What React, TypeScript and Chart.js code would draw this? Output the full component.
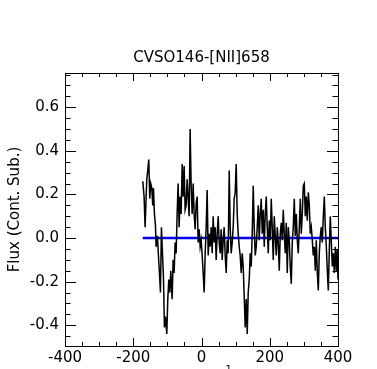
import React, { useEffect, useRef } from "react";
import { Chart, registerables } from "chart.js";

Chart.register(...registerables);

const titleText = "CVSO146-[NII]658";
const yTitle = "Flux (Cont. Sub.)";

const velocity = [
  -172.1, -168.2, -165.3, -160.4, -157.5, -154.5, -151.6, -148.7, -145.7, -142.8,
  -140.8, -137.9, -135.0, -133.0, -129.1, -126.2, -123.2, -120.3, -117.4, -114.4,
  -111.5, -108.6, -105.6, -101.7, -98.8, -95.8, -92.9, -90.0, -86.1, -83.1,
  -80.2, -77.3, -74.3, -71.4, -68.5, -65.5, -62.6, -59.7, -56.7, -53.8,
  -50.9, -47.9, -45.0, -42.1, -39.1, -36.2, -33.3, -30.3, -27.4, -24.4,
  -21.5, -18.6, -15.6, -12.7, -9.8, -6.8, -3.9, -1.0, 2.0, 4.9,
  7.8, 10.8, 13.7, 16.6, 19.6, 22.5, 25.4, 28.4, 31.3, 34.2,
  37.2, 40.1, 43.0, 46.0, 48.9, 51.8, 54.8, 57.7, 60.6, 63.6,
  66.5, 69.4, 72.4, 75.3, 78.2, 81.2, 84.1, 87.0, 90.0, 92.9,
  95.8, 98.8, 101.7, 104.6, 107.6, 110.5, 113.4, 116.4, 119.3, 122.2,
  125.2, 128.1, 131.1, 134.0, 136.9, 139.9, 142.8, 145.7, 148.7, 151.6,
  154.5, 157.5, 160.4, 163.3, 166.3, 169.2, 172.1, 175.1, 178.0, 180.9,
  183.9, 186.8, 189.7, 192.7, 195.6, 198.5, 201.5, 204.4, 207.3, 210.3,
  213.2, 216.1, 219.1, 222.0, 224.9, 227.9, 230.8, 233.7, 236.7, 239.6,
  242.5, 245.5, 248.4, 251.3, 254.3, 257.2, 260.1, 263.1, 266.0, 268.9,
  271.9, 274.8, 277.8, 280.7, 283.6, 286.6, 289.5, 292.4, 295.4, 298.3,
  301.2, 304.2, 307.1, 310.0, 313.0, 315.9, 318.8, 321.8, 324.7, 327.6,
  330.6, 333.5, 336.4, 339.4, 342.3, 345.2, 348.2, 351.1, 354.0, 357.0,
  359.9, 362.8, 365.8, 368.7, 371.6, 374.6, 377.5, 380.4, 383.4, 386.3,
  389.2, 392.2, 395.1, 398.0, 400.0,
];

const flux = [
  0.26, 0.19, 0.05, 0.27, 0.31, 0.36, 0.18, 0.25, 0.23, 0.15,
  0.23, 0.11, 0.06, -0.04, 0.01, -0.08, -0.16, -0.25, 0.05, -0.07,
  -0.18, -0.41, -0.36, -0.44, -0.28, -0.19, -0.25, -0.15, -0.28, -0.10,
  -0.16, -0.02, -0.07, 0.11, 0.25, 0.05, 0.19, 0.11, 0.34, 0.19,
  0.33, 0.13, 0.15, 0.27, 0.18, 0.10, 0.50, 0.24, 0.11, 0.25,
  0.11, 0.04, 0.16, 0.19, -0.02, 0.04, -0.04, -0.01, -0.08, -0.16,
  -0.25, -0.07, 0.05, 0.22, -0.08, 0.02, -0.04, 0.05, -0.07, 0.10,
  -0.02, 0.05, -0.10, 0.02, 0.10, -0.02, -0.07, 0.04, -0.10, -0.01,
  0.05, -0.08, -0.16, -0.01, -0.07, 0.31, 0.05, -0.07, -0.02, 0.05,
  0.18, 0.21, 0.34, 0.11, 0.02, -0.04, -0.08, -0.16, -0.07, -0.13,
  -0.27, -0.41, -0.28, -0.44, -0.25, -0.19, -0.07, -0.13, 0.02, 0.24,
  0.05, -0.08, -0.04, 0.05, 0.15, -0.01, 0.11, 0.18, 0.02, 0.13,
  -0.04, 0.11, 0.19, 0.05, -0.07, 0.08, -0.01, 0.18, 0.05, -0.10,
  0.10, 0.01, -0.08, 0.05, -0.02, -0.15, 0.02, 0.07, -0.01, 0.13,
  0.02, -0.07, 0.07, -0.16, 0.05, -0.01, -0.13, -0.21, -0.02, 0.05,
  0.18, 0.01, 0.11, -0.01, -0.07, 0.05, 0.18, 0.02, 0.11, 0.24,
  0.25, 0.10, 0.19, 0.08, 0.21, 0.15, 0.02, 0.05, -0.01, -0.08,
  -0.04, -0.15, -0.01, -0.16, -0.24, -0.07, 0.01, 0.05, -0.02, 0.10,
  0.19, 0.05, -0.04, -0.15, -0.24, -0.05, 0.10, -0.02, -0.13, -0.07,
  -0.16, -0.04, -0.15, -0.05, -0.19,
];

const zeroLineX = [-172.1, 400];
const zeroLineY = [0, 0];

const xMajorTicks = [-400, -200, 0, 200, 400];
const xMinorTicks = [-350, -300, -250, -150, -100, -50, 50, 100, 150, 250, 300, 350];
const yMajorTicks = [-0.4, -0.2, 0.0, 0.2, 0.4, 0.6];
const yMinorTicks = [-0.45, -0.35, -0.3, -0.25, -0.15, -0.1, -0.05, 0.05, 0.1, 0.15, 0.25, 0.3, 0.35, 0.45, 0.5, 0.55, 0.65, 0.7, 0.75];
const xTickLabels = ["-400", "-200", "0", "200", "400"];
const yTickLabels = ["-0.4", "-0.2", "0.0", "0.2", "0.4", "0.6"];

const FONT = "'DejaVu Sans', sans-serif";

const framePlugin = {
  id: "framePlugin",
  afterDraw(chart: any) {
    const { ctx, chartArea } = chart;
    const { left, right, top, bottom } = chartArea;
    const xs = chart.scales.x;
    const ys = chart.scales.y;
    ctx.save();
    ctx.strokeStyle = "#000";
    ctx.lineWidth = 1;
    ctx.strokeRect(Math.round(left) + 0.5, Math.round(top) + 0.5, Math.round(right - left), Math.round(bottom - top));

    const vline = (px: number, y0: number, y1: number) => {
      const p = Math.round(px) + 0.5;
      ctx.beginPath();
      ctx.moveTo(p, y0);
      ctx.lineTo(p, y1);
      ctx.stroke();
    };
    const hline = (py: number, x0: number, x1: number) => {
      const p = Math.round(py) + 0.5;
      ctx.beginPath();
      ctx.moveTo(x0, p);
      ctx.lineTo(x1, p);
      ctx.stroke();
    };

    xMajorTicks.forEach((v) => {
      const px = xs.getPixelForValue(v);
      vline(px, bottom, bottom - 8);
      vline(px, top, top + 8);
    });
    xMinorTicks.forEach((v) => {
      const px = xs.getPixelForValue(v);
      vline(px, bottom, bottom - 4);
      vline(px, top, top + 4);
    });
    yMajorTicks.forEach((v) => {
      const py = ys.getPixelForValue(v);
      hline(py, left, left + 11);
      hline(py, right, right - 11);
    });
    yMinorTicks.forEach((v) => {
      const py = ys.getPixelForValue(v);
      hline(py, left, left + 5.5);
      hline(py, right, right - 5.5);
    });

    ctx.fillStyle = "#000";
    ctx.font = `15px ${FONT}`;
    ctx.textAlign = "center";
    ctx.textBaseline = "middle";
    xMajorTicks.forEach((v, i) => {
      ctx.fillText(xTickLabels[i], xs.getPixelForValue(v), 358);
    });
    ctx.textAlign = "right";
    yMajorTicks.forEach((v, i) => {
      ctx.fillText(yTickLabels[i], left - 6, ys.getPixelForValue(v));
    });

    ctx.textAlign = "center";
    ctx.fillText(titleText, (left + right) / 2, 58.5);

    ctx.save();
    ctx.translate(15, (top + bottom) / 2);
    ctx.rotate(-Math.PI / 2);
    ctx.fillText(yTitle, 0, 0);
    ctx.restore();

    // x-axis title (mostly below the visible window)
    ctx.textBaseline = "alphabetic";
    ctx.textAlign = "left";
    const main = "V (km s";
    const sup = "-1";
    const tail = ")";
    ctx.font = `15px ${FONT}`;
    const wMain = ctx.measureText(main).width;
    const wTail = ctx.measureText(tail).width;
    ctx.font = `10px ${FONT}`;
    const wSup = ctx.measureText(sup).width;
    const total = wMain + wSup + wTail;
    const x0 = (left + right) / 2 - total / 2;
    const base = 385;
    ctx.font = `15px ${FONT}`;
    ctx.fillText(main, x0, base);
    ctx.font = `10px ${FONT}`;
    ctx.fillText(sup, x0 + wMain, base - 12);
    ctx.font = `15px ${FONT}`;
    ctx.fillText(tail, x0 + wMain + wSup, base);
    ctx.restore();
  },
};

export default function App() {
  const canvasRef = useRef<HTMLCanvasElement | null>(null);

  useEffect(() => {
    const canvas = canvasRef.current;
    if (!canvas) return;
    const spectrum = velocity.map((v, i) => ({ x: v, y: flux[i] }));
    const zero = zeroLineX.map((v, i) => ({ x: v, y: zeroLineY[i] }));
    const chart = new Chart(canvas, {
      type: "line",
      data: {
        datasets: [
          {
            data: spectrum,
            borderColor: "#000000",
            borderWidth: 1.5,
            pointRadius: 0,
            tension: 0,
            fill: false,
          },
          {
            data: zero,
            borderColor: "#0000ff",
            borderWidth: 2.6,
            pointRadius: 0,
            tension: 0,
            fill: false,
          },
        ],
      },
      options: {
        responsive: false,
        animation: false,
        devicePixelRatio: 1,
        layout: { padding: { left: 0, right: 39, top: 73, bottom: 0 } },
        plugins: {
          legend: { display: false },
          tooltip: { enabled: false },
          title: { display: false },
        },
        scales: {
          x: {
            type: "linear",
            min: -400,
            max: 400,
            grid: { display: false },
            border: { display: false },
            ticks: { display: false },
            afterFit: (s: any) => {
              s.height = 44;
            },
          },
          y: {
            type: "linear",
            min: -0.495,
            max: 0.757,
            grid: { display: false },
            border: { display: false },
            ticks: { display: false },
            afterFit: (s: any) => {
              s.width = 65;
            },
          },
        },
      },
      plugins: [framePlugin],
    });
    return () => chart.destroy();
  }, []);

  return (
    <div
      style={{
        position: "fixed",
        left: 0,
        top: 0,
        width: 377,
        height: 369,
        overflow: "hidden",
        background: "#ffffff",
      }}
    >
      <canvas ref={canvasRef} width={377} height={390} style={{ display: "block", width: 377, height: 390 }} />
    </div>
  );
}
